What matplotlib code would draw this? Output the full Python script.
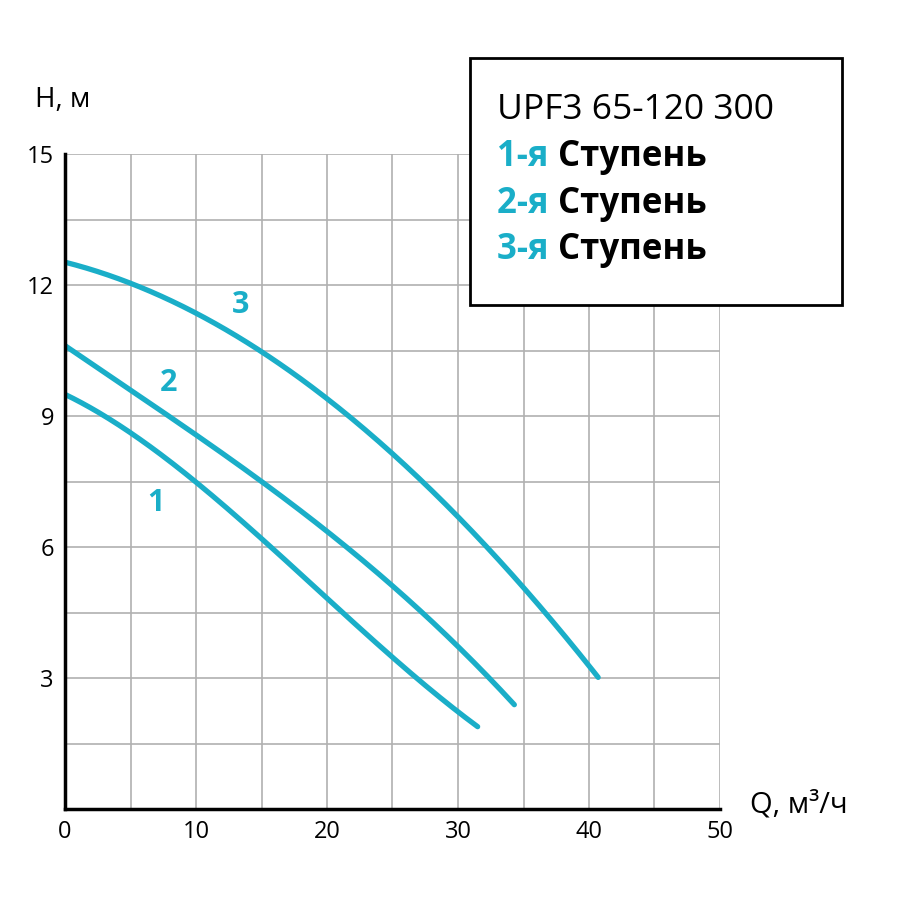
import matplotlib
matplotlib.use("Agg")
import matplotlib.pyplot as plt
from matplotlib.patches import Rectangle
import numpy as np

plt.rcParams['font.family'] = ['Open Sans', 'DejaVu Sans']

q3 = [0, 5, 10, 15, 20, 25, 30, 35, 40.7]
h3 = [12.5, 12.1, 11.3, 10.5, 9.4, 8.1, 6.7, 5.1, 3.0]
q2 = [0, 5, 10, 15, 20, 25, 30, 34.3]
h2 = [10.6, 9.6, 8.6, 7.5, 6.3, 5.1, 3.8, 2.35]
q1 = [0, 5, 10, 15, 20, 25, 30, 31.5]
h1 = [9.5, 8.6, 7.5, 6.2, 4.8, 3.5, 2.2, 1.9]
curve_labels = ["1", "2", "3"]
label_pos = [(6.9, 7.0), (7.9, 9.75), (13.4, 11.55)]
xticks = [0, 10, 20, 30, 40, 50]
yticks = [3, 6, 9, 12, 15]

col = '#1aaec8'
fig = plt.figure(figsize=(9, 9), dpi=100)
ax = fig.add_axes([65/900, 1-809/900, 655/900, 655/900])
ax.set_xlim(0, 50)
ax.set_ylim(0, 15)
ax.set_xticks(np.arange(0, 51, 5))
ax.set_yticks(np.arange(0, 15.1, 1.5))
ax.grid(True, color='#b0b0b0', lw=1.2)
ax.set_xticklabels([str(int(v)) if v in xticks else '' for v in np.arange(0, 51, 5)], fontsize=17)
ax.set_yticklabels([f"{v:g}" if v in yticks else '' for v in np.arange(0, 15.1, 1.5)], fontsize=17)
ax.tick_params(length=0, pad=8)
for s in ['top', 'right']:
    ax.spines[s].set_visible(False)
for s in ['left', 'bottom']:
    ax.spines[s].set_linewidth(2.5)
    ax.spines[s].set_color('black')

for q, h in [(q1, h1), (q2, h2), (q3, h3)]:
    c = np.polyfit(q, h, 3)
    qq = np.linspace(0, q[-1], 200)
    ax.plot(qq, np.polyval(c, qq), color=col, lw=3.8, solid_capstyle='round')
for t, (x, y) in zip(curve_labels, label_pos):
    ax.text(x, y, t, color=col, fontsize=22, fontweight='bold', ha='center', va='center')

fig.text(35/900, 1-100/900, "H, м", fontsize=20, va='center')
fig.text(750/900, 1-805/900, "Q, м³/ч", fontsize=21, va='center')

fig.patches.append(Rectangle((470/900, 1-305/900), 372/900, 247/900, transform=fig.transFigure,
                             facecolor='white', edgecolor='black', lw=2, zorder=5))
fig.text(497/900, 1-110/900, "UPF3 65-120 300", fontsize=25.5, va='center', zorder=6)
for i, yy in enumerate([157, 204, 250]):
    t = fig.text(497/900, 1-yy/900, f"{i+1}-я ", fontsize=25, fontweight='bold', color=col, va='center', zorder=6)
    fig.canvas.draw()
    bb = t.get_window_extent()
    fig.text(bb.x1/900, 1-yy/900, "Ступень", fontsize=25, fontweight='bold', color='black', va='center', zorder=6)

fig.savefig("out.png", dpi=100)
